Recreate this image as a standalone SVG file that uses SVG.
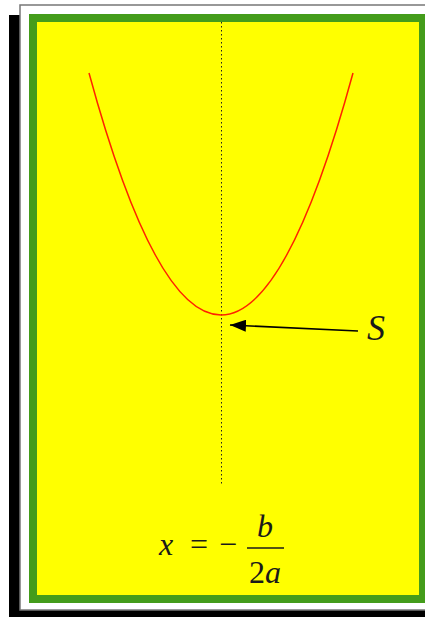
<svg xmlns="http://www.w3.org/2000/svg" width="425" height="617" viewBox="0 0 425 617">
<defs>
<style>
.t{font-family:"Liberation Serif","Times New Roman",serif;font-style:italic;fill:#1a1a1a}
.o{font-family:"Liberation Serif","Times New Roman",serif;fill:#1a1a1a}
</style>
<marker id="ah" viewBox="0 0 16 12" refX="16" refY="6" markerWidth="16" markerHeight="12" markerUnits="userSpaceOnUse" orient="auto">
<path d="M0,0 L16,6 L0,12 Z" fill="#000"/>
</marker>
</defs>
<g id="frame">
<rect x="9" y="15" width="430" height="610" fill="#000"/>
<rect x="20" y="5" width="420" height="605" fill="#fff" stroke="#777" stroke-width="1.5"/>
<rect x="33" y="18" width="390" height="581" fill="#ffff00" stroke="#449c1b" stroke-width="8"/>
</g>
<g id="axis">
<line x1="221.5" y1="22" x2="221.5" y2="486" stroke="#222" stroke-width="1" stroke-dasharray="1.5,2.5"/>
</g>
<g id="parabola">
<path d="M89,73 Q221,557 353,73" fill="none" stroke="#ff2200" stroke-width="1.5"/>
</g>
<g id="connectors">
<line x1="358" y1="331" x2="230" y2="325" stroke="#000" stroke-width="1.5" marker-end="url(#ah)"/>
</g>
<g id="labelS">
<text class="t" x="367" y="340" font-size="36">S</text>
</g>
<g id="formula">
<text class="t" x="159" y="555" font-size="32">x</text>
<text class="o" x="190" y="555" font-size="32">=</text>
<text class="o" x="219" y="555" font-size="32">−</text>
<line x1="247" y1="548" x2="284" y2="548" stroke="#1a1a1a" stroke-width="1.5"/>
<text class="t" x="257" y="537" font-size="32">b</text>
<text class="o" x="249" y="583" font-size="32">2<tspan class="t">a</tspan></text>
</g>
</svg>
